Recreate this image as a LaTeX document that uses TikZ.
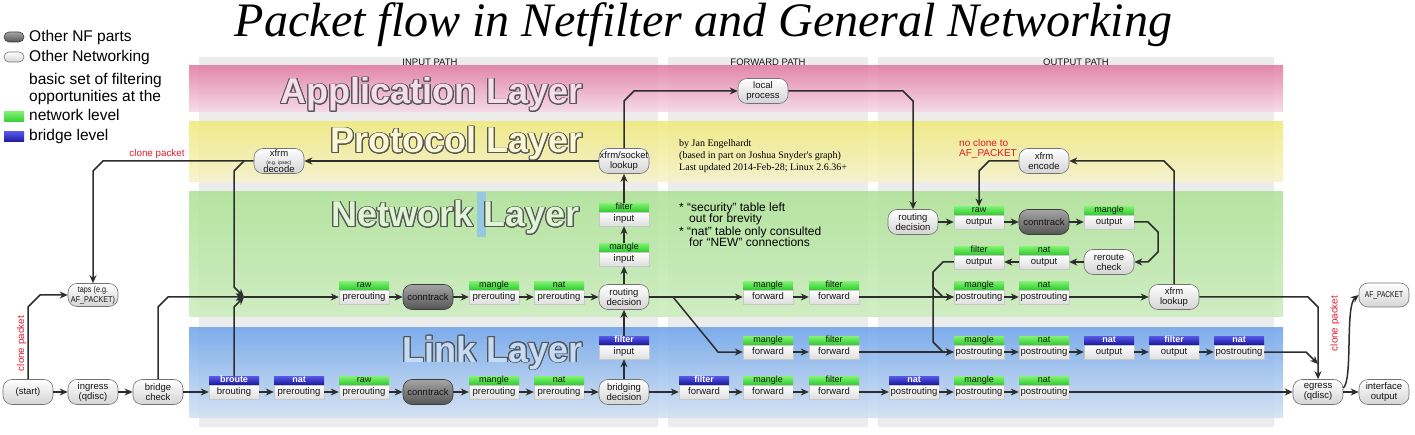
\documentclass[tikz,border=0pt]{standalone}
\usepackage{fontspec}
\usepackage{graphicx}
\setmainfont{Liberation Sans}
\newfontfamily\creditfont{Liberation Serif}
\usepackage{contour}
\contourlength{0.9pt}
\contournumber{20}
\usetikzlibrary{arrows.meta}

\definecolor{linec}{RGB}{45,45,45}
\definecolor{pillborder}{RGB}{115,115,115}
\definecolor{pilllow}{RGB}{212,212,212}
\definecolor{dpilltop}{RGB}{165,165,165}
\definecolor{dpilllow}{RGB}{85,85,85}
\definecolor{dpillborder}{RGB}{60,60,60}
\definecolor{ghT}{RGB}{125,240,110}
\definecolor{ghB}{RGB}{50,205,50}
\definecolor{bhT}{RGB}{85,85,228}
\definecolor{bhB}{RGB}{25,25,160}
\definecolor{bodylow}{RGB}{222,222,222}
\definecolor{bodyborder}{RGB}{200,200,200}
\definecolor{colgray}{RGB}{236,236,236}
\definecolor{pinkT}{RGB}{226,120,160}
\definecolor{pinkB}{RGB}{246,216,228}
\definecolor{yelT}{RGB}{240,234,120}
\definecolor{yelB}{RGB}{246,242,202}
\definecolor{grnT}{RGB}{172,226,148}
\definecolor{grnB}{RGB}{202,237,188}
\definecolor{bluT}{RGB}{105,162,235}
\definecolor{bluB}{RGB}{208,224,243}
\definecolor{redtxt}{RGB}{225,25,45}
\definecolor{outlinec}{RGB}{85,85,85}
\definecolor{appF}{RGB}{246,222,232}
\definecolor{protF}{RGB}{252,248,212}
\definecolor{netF}{RGB}{224,244,214}
\definecolor{linkF}{RGB}{196,220,248}
\definecolor{cursorc}{RGB}{150,200,225}
\definecolor{textc}{RGB}{20,20,20}

\tikzset{
  arr/.style={draw=linec, line width=1.5pt, -{Stealth[length=8pt,width=7pt]}},
  pill/.style={draw=pillborder, line width=0.6pt, rounded corners=9pt, top color=white, bottom color=pilllow,
    minimum width=50pt, minimum height=25pt, inner sep=0pt, align=center, text=textc,
    font=\fontsize{9.5}{10}\selectfont},
  dpill/.style={pill, draw=dpillborder, top color=dpilltop, bottom color=dpilllow},
  hdrg/.style={minimum width=50pt, minimum height=8pt, inner sep=0pt, text height=6.3pt, text depth=1.7pt,
    top color=ghT, bottom color=ghB, text=textc, font=\fontsize{9}{9}\selectfont},
  hdrb/.style={hdrg, top color=bhT, bottom color=bhB, text=white, font=\fontsize{9}{9}\selectfont\bfseries},
  bdy/.style={minimum width=50pt, minimum height=14pt, inner sep=0pt, text height=7pt, text depth=2pt,
    top color=white, bottom color=bodylow, draw=bodyborder, line width=0.4pt, text=textc,
    font=\fontsize{9.5}{10}\selectfont},
  layer/.style={font=\fontsize{36}{36}\selectfont\bfseries, inner sep=0pt, anchor=base east},
  legend/.style={font=\fontsize{15.5}{17}\selectfont, inner sep=0pt, anchor=base west, text=black},
  colhead/.style={font=\fontsize{9.5}{10}\selectfont, inner sep=0pt, text=textc},
  redlbl/.style={font=\fontsize{9.8}{10}\selectfont, inner sep=0pt, text=redtxt},
  credit/.style={font=\creditfont\fontsize{10}{12}\selectfont, inner sep=0pt, anchor=base west, text=black},
  note/.style={font=\fontsize{12}{12}\selectfont, inner sep=0pt, anchor=base west, text=black},
}

\newcommand\tblbox[6]{%
  \node[bdy] (#1) at (#2,#3) {#5};
  \node[hdr#6, anchor=south] (#1-h) at (#1.north) {#4};
}

\begin{document}
\begin{tikzpicture}[x=1pt,y=-1pt]
\useasboundingbox (0,0) rectangle (1415,435);
\fill[white] (0,0) rectangle (1415,435);

% path columns
\fill[colgray] (199,57) rectangle (658,427);
\fill[colgray] (668,57) rectangle (868,427);
\fill[colgray] (878,57) rectangle (1274,427);
% layer bands
\shade[top color=pinkT, bottom color=pinkB, fill opacity=0.85] (189,66) rectangle (1283,112);
\shade[top color=yelT, bottom color=yelB, fill opacity=0.85] (189,122) rectangle (1283,182);
\shade[top color=grnT, bottom color=grnB, fill opacity=0.85] (189,192) rectangle (1283,317);
\shade[top color=bluT, bottom color=bluB, fill opacity=0.85] (189,327) rectangle (1283,417);

% column headings
\node[colhead] (hIn) at (430,62) {INPUT PATH};
\node[colhead] (hFw) at (768,62) {FORWARD PATH};
\node[colhead] (hOut) at (1076,62) {OUTPUT PATH};

% title
\node[font=\creditfont\itshape, inner sep=0pt, anchor=base] (title) at (703.5,37)
  {\resizebox{937pt}{!}{Packet flow in Netfilter and General Networking}};

% layer labels
\fill[cursorc] (477,192) rectangle (486,237);
\node[layer, text=appF] (lApp) at (583,104) {\contour{outlinec}{Application Layer}};
\node[layer, text=protF] (lProt) at (583,153) {\contour{outlinec}{Protocol Layer}};
\node[layer, text=netF] (lNet) at (580,227) {\contour{outlinec}{Network Layer}};
\node[layer, text=linkF] (lLink) at (583,362) {\contour{outlinec}{Link Layer}};

% legend
\node[dpill, minimum width=20pt, minimum height=10pt, rounded corners=5pt] (lgA) at (14,37) {};
\node[legend] (lgAt) at (29,41.5) {Other NF parts};
\node[pill, minimum width=20pt, minimum height=10pt, rounded corners=5pt] (lgB) at (14,57) {};
\node[legend] (lgBt) at (29,62) {Other Networking};
\node[legend] (lgC1) at (29,85) {basic set of filtering};
\node[legend] (lgC2) at (29,102) {opportunities at the};
\node[hdrg, minimum width=20pt, minimum height=10pt, text height=0pt, text depth=0pt] (lgC) at (14,117) {};
\node[legend] (lgCt) at (29,121) {network level};
\node[hdrb, minimum width=20pt, minimum height=10pt, text height=0pt, text depth=0pt] (lgD) at (14,137) {};
\node[legend] (lgDt) at (29,141) {bridge level};

% credits and notes
\node[credit] (c1) at (679,147) {by Jan Engelhardt};
\node[credit] (c2) at (679,159) {(based in part on Joshua Snyder's graph)};
\node[credit] (c3) at (679,171) {Last updated 2014-Feb-28; Linux 2.6.36+};
\node[note] (n1) at (679,211.5) {* “security” table left};
\node[note] (n2) at (689,223) {out for brevity};
\node[note] (n3) at (679,236) {* “nat” table only consulted};
\node[note] (n4) at (689,247) {for “NEW” connections};

% ---- nodes: input path, link row
\node[pill] (start) at (28,392) {(start)};
\node[pill] (ingress) at (93,392) {ingress\\(qdisc)};
\node[pill] (bridge) at (158,392) {bridge\\check};
\node[pill, minimum height=23pt] (taps) at (93,295)
  {\fontsize{8.5}{8.5}\selectfont\scalebox{0.85}[1]{taps (e.g.}\\\fontsize{8.5}{8.5}\selectfont\scalebox{0.85}[1]{AF\_PACKET)}};
\tblbox{broute}{234}{392}{broute}{brouting}{b}
\tblbox{natpreC}{299}{392}{nat}{prerouting}{b}
\tblbox{rawpreC}{364}{392}{raw}{prerouting}{g}
\node[dpill] (ctC) at (428,392) {conntrack};
\tblbox{manglepreC}{494}{392}{mangle}{prerouting}{g}
\tblbox{natpreD}{559}{392}{nat}{prerouting}{g}
\node[pill] (bd) at (624,392) {bridging\\decision};
\tblbox{fiB}{624}{352}{filter}{input}{b}

% input path, network row
\tblbox{rawpreA}{364}{297}{raw}{prerouting}{g}
\node[dpill] (ctA) at (428,297) {conntrack};
\tblbox{manglepreA}{494}{297}{mangle}{prerouting}{g}
\tblbox{natpreA}{559}{297}{nat}{prerouting}{g}
\node[pill] (rdA) at (624,297) {routing\\decision};
\tblbox{miA}{624}{259}{mangle}{input}{g}
\tblbox{fiA}{624}{219}{filter}{input}{g}
\node[pill] (lookup) at (624,161) {xfrm/socket\\lookup};
\node[pill, font=\fontsize{9.5}{8}\selectfont] (decode) at (279,161)
  {xfrm\\{\fontsize{5}{5}\selectfont (e.g. ipsec)}\\decode};
\node[pill] (lp) at (763,91) {local\\process};

% forward path
\tblbox{mfA}{768}{297}{mangle}{forward}{g}
\tblbox{ffA}{834}{297}{filter}{forward}{g}
\tblbox{mfB}{768}{352}{mangle}{forward}{g}
\tblbox{ffB}{834}{352}{filter}{forward}{g}
\tblbox{ffbC}{704}{392}{filter}{forward}{b}
\tblbox{mfC}{768}{392}{mangle}{forward}{g}
\tblbox{ffC}{834}{392}{filter}{forward}{g}

% output path
\node[pill] (rdO) at (913,222) {routing\\decision};
\tblbox{rawO}{979}{222}{raw}{output}{g}
\node[dpill] (ctO) at (1044,222) {conntrack};
\tblbox{mO}{1109}{222}{mangle}{output}{g}
\tblbox{foO}{979}{262}{filter}{output}{g}
\tblbox{noO}{1044}{262}{nat}{output}{g}
\node[pill] (rrO) at (1109,262) {reroute\\check};
\node[pill] (encode) at (1044,161) {xfrm\\encode};
\tblbox{mpA}{979}{297}{mangle}{postrouting}{g}
\tblbox{npA}{1044}{297}{nat}{postrouting}{g}
\node[pill] (xlook) at (1174,297) {xfrm\\lookup};
\tblbox{mpB}{979}{352}{mangle}{postrouting}{g}
\tblbox{npB}{1044}{352}{nat}{postrouting}{g}
\tblbox{noB}{1109}{352}{nat}{output}{b}
\tblbox{foB}{1174}{352}{filter}{output}{b}
\tblbox{npbB}{1239}{352}{nat}{postrouting}{b}
\tblbox{npbC}{914}{392}{nat}{postrouting}{b}
\tblbox{mpC}{979}{392}{mangle}{postrouting}{g}
\tblbox{npC}{1044}{392}{nat}{postrouting}{g}
\node[pill] (egress) at (1318,392) {egress\\(qdisc)};
\node[pill] (ifout) at (1384,392) {interface\\output};
\node[pill, minimum height=24pt] (afp) at (1384,295)
  {\fontsize{8.5}{8.5}\selectfont\scalebox{0.78}[1]{AF\_PACKET}};

% red labels
\node[redlbl] (cl1) at (157,154) {clone packet};
\node[redlbl, rotate=90] (cl2) at (21.5,343.5) {clone packet};
\node[redlbl, rotate=90] (cl3) at (1335,323.5) {clone packet};
\node[redlbl, anchor=base west, font=\fontsize{10}{10}\selectfont] (nc1) at (959,147) {no clone to};
\node[redlbl, anchor=base west, font=\fontsize{10}{10}\selectfont] (nc2) at (959,157) {AF\_PACKET};

% ---- connectors
\coordinate (J) at (244,297);
\coordinate (dsplit) at (244,161);
\coordinate (fsplit) at (933,272);
\coordinate (emerge) at (1318,364);

\draw[arr] (start) -- (ingress);
\draw[arr] (ingress) -- (bridge);
\draw[arr] (bridge) -- (broute);
\draw[arr] (broute) -- (natpreC);
\draw[arr] (natpreC) -- (rawpreC);
\draw[arr] (rawpreC) -- (ctC);
\draw[arr] (ctC) -- (manglepreC);
\draw[arr] (manglepreC) -- (natpreD);
\draw[arr] (natpreD) -- (bd);
\draw[arr] (start.north) -- (28,307) -- (40,295) -- (taps.west);
\draw[arr] (bridge.north) -- (158,307) -- (168,297) -- (J);
\draw[arr] (broute-h.north) -- (234,307) -- (J);
\draw[arr] (decode.west) -- (103,161) -- (93,171) -- (taps.north);
\draw[arr] (dsplit) -- (234,171) -- (234,287) -- (J);
\draw[arr] (J) -- (rawpreA);
\draw[arr] (rawpreA) -- (ctA);
\draw[arr] (ctA) -- (manglepreA);
\draw[arr] (manglepreA) -- (natpreA);
\draw[arr] (natpreA) -- (rdA);
\draw[arr] (bd.north) -- (fiB.south);
\draw[arr] (fiB-h.north) -- (rdA.south);
\draw[arr] (rdA.north) -- (miA.south);
\draw[arr] (miA-h.north) -- (fiA.south);
\draw[arr] (fiA-h.north) -- (lookup.south);
\draw[arr] (lookup) -- (decode);
\draw[arr] (lookup.north) -- (624,101) -- (634,91) -- (lp);
\draw[arr] (lp.east) -- (903,91) -- (913,101) -- (rdO.north);

\draw[arr] (rdA) -- (mfA);
\draw[arr] (rdA.east) -- (673,297) -- (718,352) -- (mfB);
\draw[arr] (mfA) -- (ffA);
\draw[arr] (ffA) -- (mpA);
\draw[arr] (mfB) -- (ffB);
\draw[arr] (ffB) -- (mpB);
\draw[arr] (bd) -- (ffbC);
\draw[arr] (ffbC) -- (mfC);
\draw[arr] (mfC) -- (ffC);
\draw[arr] (ffC) -- (npbC);

\draw[arr] (rdO) -- (rawO);
\draw[arr] (rawO) -- (ctO);
\draw[arr] (ctO) -- (mO);
\draw[arr] (mO.east) -- (1148,222) -- (1158,232) -- (1158,252) -- (1148,262) -- (rrO.east);
\draw[arr] (rrO) -- (noO);
\draw[arr] (noO) -- (foO);
\draw[arr] (foO.west) -- (943,262) -- (fsplit) -- (933,287) -- (943,297) -- (mpA.west);
\draw[arr] (fsplit) -- (933,342) -- (943,352) -- (mpB.west);
\draw[arr] (mpA) -- (npA);
\draw[arr] (npA) -- (xlook);
\draw[arr] (xlook.north) -- (1174,171) -- (1164,161) -- (encode.east);
\draw[arr] (encode.west) -- (989,161) -- (979,171) -- (rawO-h.north);
\draw[arr] (mpB) -- (npB);
\draw[arr] (npB) -- (noB);
\draw[arr] (noB) -- (foB);
\draw[arr] (foB) -- (npbB);
\draw[arr] (npbC) -- (mpC);
\draw[arr] (mpC) -- (npC);
\draw[arr] (npC) -- (egress);
\draw[arr] (xlook.east) -- (1308,297) -- (1318,307) -- (egress.north);
\draw[arr] (npbB.east) -- (1306,352) -- (emerge);
\draw[arr] (egress) -- (ifout);
\draw[arr] ([yshift=4pt]egress.east) .. controls (1353,380) and (1345,306) .. (afp.west);
\end{tikzpicture}
\end{document}
